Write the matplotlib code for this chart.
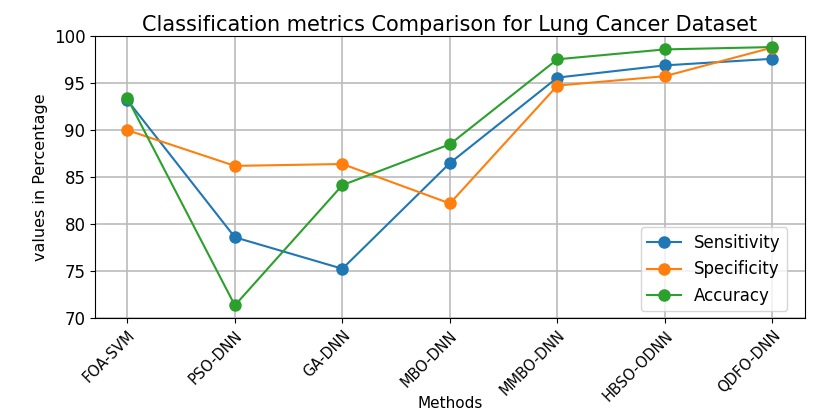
import matplotlib
matplotlib.use("Agg")
import matplotlib.pyplot as plt

# methods and metric values (percent)
methods = ["FOA-SVM", "PSO-DNN", "GA-DNN", "MBO-DNN", "MMBO-DNN", "HBSO-ODNN", "QDFO-DNN"]
sensitivity = [93.2, 78.6, 75.25, 86.5, 95.6, 96.9, 97.6]
specificity = [90.0, 86.2, 86.4, 82.2, 94.75, 95.75, 98.8]
accuracy = [93.4, 71.35, 84.15, 88.5, 97.55, 98.6, 98.85]

fig, ax = plt.subplots(figsize=(8.27, 4.12), dpi=100)

ax.plot(methods, sensitivity, marker='o', markersize=8, label='Sensitivity')
ax.plot(methods, specificity, marker='o', markersize=8, label='Specificity')
ax.plot(methods, accuracy, marker='o', markersize=8, label='Accuracy')

ax.set_ylim(70, 100)
ax.set_xlim(-0.3, 6.3)
ax.grid(True, color='#bbbbbb', linewidth=1.2)
ax.set_title("Classification metrics Comparison for Lung Cancer Dataset", fontsize=15, pad=4)
ax.set_xlabel("Methods", fontsize=11)
ax.xaxis.set_label_coords(0.5, -0.278)
ax.set_ylabel("values in Percentage", fontsize=11.5, family=['Liberation Sans Narrow', 'DejaVu Sans'])
ax.tick_params(axis='y', labelsize=12)
plt.setp(ax.get_xticklabels(), rotation=45, ha='right', rotation_mode='anchor', fontsize=10.5)
ax.legend(loc='lower right', fontsize=12, borderaxespad=0.4, bbox_to_anchor=(0.985, 0.0))

fig.subplots_adjust(left=0.115, right=0.973, top=0.912, bottom=0.228)
fig.savefig("out.png", dpi=100)
